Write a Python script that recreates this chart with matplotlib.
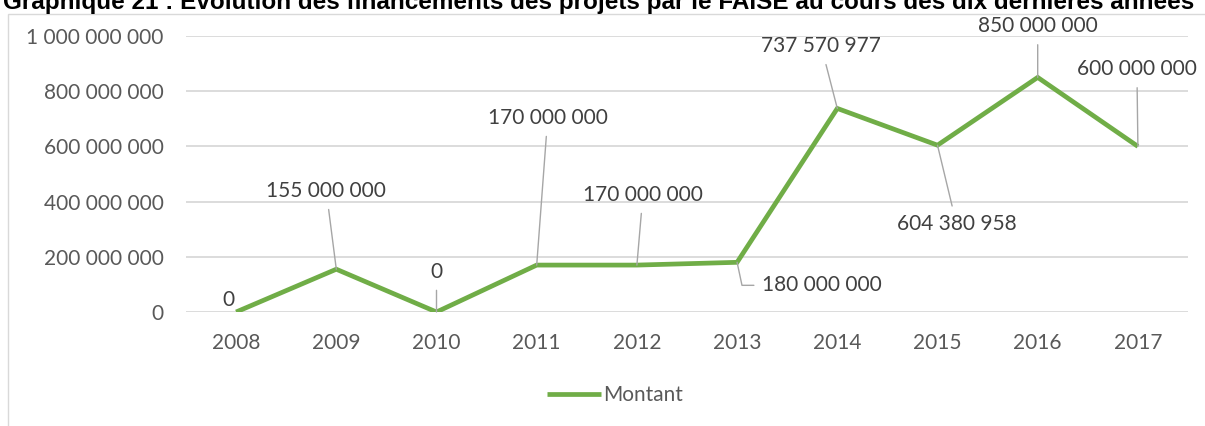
import matplotlib
matplotlib.use('Agg')
import matplotlib.pyplot as plt
from matplotlib.patches import Rectangle

years = ['2008', '2009', '2010', '2011', '2012', '2013', '2014', '2015', '2016', '2017']
montant = [0, 155000000, 0, 170000000, 170000000, 180000000,
           737570977, 604380958, 850000000, 600000000]
labels = ['0', '155 000 000', '0', '170 000 000', '170 000 000', '180 000 000',
          '737 570 977', '604 380 958', '850 000 000', '600 000 000']
yticks = [0, 200000000, 400000000, 600000000, 800000000, 1000000000]
ytick_labels = ['0', '200 000 000', '400 000 000', '600 000 000', '800 000 000', '1 000 000 000']
title = ("Graphique 21 : Evolution des financements des projets par le FAISE "
         "au cours des dix dernières années")

# label offsets in pixels (text centre relative to point), and leader line on/off
offsets = [(-8, 12), (-10, 78), (0, 40), (11, 147), (6, 70), (85, -23),
           (-16, 62), (19, -79), (0, 51), (-1, 77)]
leaders = [False, True, True, True, True, True, True, True, True, True]

plt.rcParams['font.family'] = ['Lato', 'DejaVu Sans']
text_col = '#595959'
green = '#70ad47'
fs = 15

fig = plt.figure(figsize=(12.05, 4.26), dpi=100)
W, H = 1205, 426
fig.patches.append(Rectangle((8 / W, -0.1), 1.2, 1.1 - 14 / H, transform=fig.transFigure,
                             fill=False, edgecolor='#d9d9d9', linewidth=1))
ax = fig.add_axes([186 / W, 114 / H, (1188 - 186) / W, 276 / H])

x = list(range(len(years)))
line, = ax.plot(x, montant, color=green, linewidth=3.4, solid_joinstyle='miter',
                solid_capstyle='butt', label='Montant', zorder=3)

for i, (v, lab) in enumerate(zip(montant, labels)):
    dx, dy = offsets[i]
    ap = None
    if leaders[i]:
        cs = 'arc3'
        if i == 5:
            cs = 'angle,angleA=0,angleB=-78,rad=0'
        ap = dict(arrowstyle='-', color='#a6a6a6', lw=1, shrinkA=4, shrinkB=0,
                  connectionstyle=cs)
    ax.annotate(lab, (i, v), xytext=(dx, dy), textcoords='offset pixels',
                ha='center', va='center', fontsize=fs, color='#404040',
                arrowprops=ap, annotation_clip=False, zorder=4)

ax.set_xlim(-0.5, 9.5)
ax.set_ylim(0, 1000000000)
ax.set_xticks(x)
ax.set_xticklabels(years)
ax.set_yticks(yticks)
ax.set_yticklabels(ytick_labels)
ax.tick_params(axis='both', length=0, labelsize=fs, labelcolor=text_col)
ax.tick_params(axis='x', pad=15)
ax.tick_params(axis='y', pad=16)
ax.grid(axis='y', color='#d9d9d9', linewidth=1.3)
ax.set_axisbelow(True)
for s in ax.spines.values():
    s.set_visible(False)

fig.legend(handles=[line], loc='center', bbox_to_anchor=(615 / W, 1 - 395 / H),
           frameon=False, fontsize=fs, labelcolor=text_col, handlelength=2.6,
           handletextpad=0.1)

fig.text(0.497, 1 - 9 / H, title, ha='center', va='baseline', fontsize=17.5,
         fontweight='bold', family='Liberation Sans', color='black')

fig.savefig('out.png', dpi=100)
